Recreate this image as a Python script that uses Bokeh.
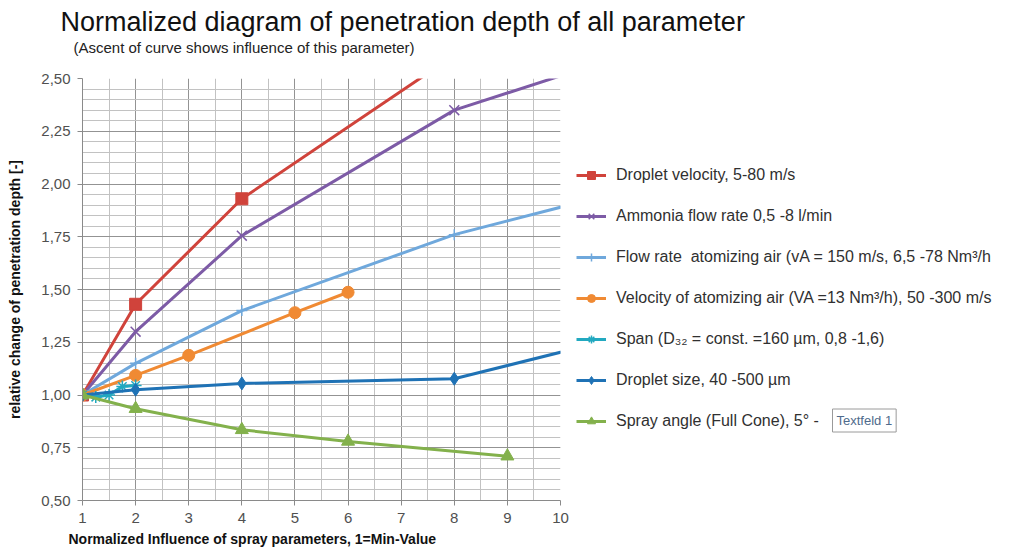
from bokeh.plotting import figure
from bokeh.models import (Range1d, FixedTicker, Legend, LegendItem, Title, Label)
from bokeh.embed import file_html
from bokeh.resources import INLINE
import numpy as np

# ---------------- data ----------------
x_dv = [1, 2, 4, 8]
y_dv = [1.00, 1.43, 1.93, 2.61]
x_am = [1, 2, 4, 8, 16]
y_am = [1.00, 1.30, 1.755, 2.35, 3.00]
x_fa = [1, 2, 4, 8, 12]
y_fa = [1.00, 1.15, 1.40, 1.76, 2.02]
x_va = [1, 2, 3, 5, 6]
y_va = [1.00, 1.093, 1.188, 1.39, 1.487]
x_sp = [1, 1.25, 1.5, 1.75, 2]
y_sp = [1.00, 0.99, 1.00, 1.04, 1.045]
x_ds = [1, 2, 4, 8, 12.5]
y_ds = [1.00, 1.025, 1.055, 1.077, 1.36]
x_sa = [1, 2, 4, 6, 9]
y_sa = [1.00, 0.935, 0.835, 0.78, 0.71]

labels = [
    "Droplet velocity, 5-80 m/s",
    "Ammonia flow rate 0,5 -8 l/min",
    "Flow rate  atomizing air (vA = 150 m/s, 6,5 -78 Nm³/h",
    "Velocity of atomizing air (VA =13 Nm³/h), 50 -300 m/s",
    "Span (D₃₂ = const. =160 µm, 0,8 -1,6)",
    "Droplet size, 40 -500 µm",
    "Spray angle (Full Cone), 5° -",
]
x_ticks = [1, 2, 3, 4, 5, 6, 7, 8, 9, 10]
y_ticks = [0.5, 0.75, 1.0, 1.25, 1.5, 1.75, 2.0, 2.25, 2.5]
y_tick_labels = ["0,50", "0,75", "1,00", "1,25", "1,50", "1,75", "2,00", "2,25", "2,50"]

title_text = "Normalized diagram of  penetration depth of all parameter"
subtitle_text = "(Ascent of curve shows influence of this parameter)"
xlabel_text = "Normalized Influence of  spray parameters, 1=Min-Value"
ylabel_text = "relative change of penetration depth [-]"
textbox_text = "Textfeld 1"

FONT = "Liberation Sans"

# ---------------- figure ----------------
W, H = 1012, 554
FL, FT, FW, FH = 82, 78, 478, 422

p = figure(width=W, height=H, output_backend="svg", toolbar_location=None,
           x_range=Range1d(1, 10), y_range=Range1d(0.5, 2.5),
           frame_width=FW, frame_height=FH,
           min_border_left=FL, min_border_top=FT,
           min_border_right=W - FL - FW, min_border_bottom=H - FT - FH)
p.outline_line_color = None
p.background_fill_color = "white"
p.border_fill_color = "white"

xminor = list(np.arange(1.5, 10, 1.0))
yminor = [round(v, 2) for v in np.arange(0.5, 2.5001, 0.05)]
p.xaxis.ticker = FixedTicker(ticks=x_ticks, minor_ticks=xminor)
p.yaxis.ticker = FixedTicker(ticks=y_ticks, minor_ticks=yminor)
p.yaxis.major_label_overrides = {t: l for t, l in zip(y_ticks, y_tick_labels)}

for ax in (p.xaxis[0], p.yaxis[0]):
    ax.axis_line_color = "#8a8a8a"
    ax.major_tick_line_color = "#8a8a8a"
    ax.major_tick_out = 5
    ax.major_tick_in = 0
    ax.minor_tick_line_color = None
    ax.major_label_text_font = FONT
    ax.major_label_text_font_size = "15px"
    ax.major_label_text_color = "#505050"
p.yaxis.major_label_standoff = 7
p.xaxis.major_label_standoff = 7

p.yaxis.axis_label = ylabel_text
p.yaxis.axis_label_text_font = FONT
p.yaxis.axis_label_text_font_size = "14px"
p.yaxis.axis_label_text_font_style = "bold"
p.yaxis.axis_label_text_color = "#111111"
p.yaxis.axis_label_standoff = 15

p.xgrid.grid_line_color = "#939393"
p.ygrid.grid_line_color = "#939393"
p.xgrid.minor_grid_line_color = "#c2c2c2"
p.ygrid.minor_grid_line_color = "#c2c2c2"

# ---------------- series ----------------
series = [
    (x_dv, y_dv, "#d0433b", "square", 12),
    (x_am, y_am, "#7d5ba6", "x", 14),
    (x_fa, y_fa, "#6fa8dc", "cross", 11),
    (x_va, y_va, "#f08a33", "circle", 12),
    (x_sp, y_sp, "#22a9c0", "asterisk", 12),
    (x_ds, y_ds, "#1f72b5", "diamond", 13),
    (x_sa, y_sa, "#83b14c", "triangle", 13),
]
items = []
for (xs, ys, col, mk, sz), lab in zip(series, labels):
    r1 = p.line(xs, ys, line_color=col, line_width=3)
    if mk in ("x", "cross", "asterisk"):
        r2 = p.scatter(xs, ys, marker=mk, size=sz, line_color=col, line_width=1.5)
    else:
        r2 = p.scatter(xs, ys, marker=mk, size=sz, fill_color=col, line_color=col)
    items.append(LegendItem(label=lab, renderers=[r1, r2]))

legend = Legend(items=items, location="top_left", padding=0, margin=16,
                title=" ", title_text_font_size="12px", title_standoff=57,
                glyph_width=30, glyph_height=20, label_height=20, spacing=21,
                label_standoff=10, border_line_color=None,
                background_fill_alpha=0,
                label_text_font=FONT, label_text_font_size="16px",
                label_text_color="#303030")
p.add_layout(legend, "right")

# ---------------- titles / labels ----------------
def px2x(px):
    return 1 + (px - FL) * 9.0 / FW

def py2y(py):
    return 0.5 + ((FT + FH) - py) * 2.0 / FH

# "Textfeld 1" box, kept in the panel above the frame so it is not clipped
p.add_layout(Label(x=px2x(832), y=py2y(420), text=textbox_text,
                   text_font=FONT, text_font_size="13px", text_color="#4f6b8c",
                   text_align="left", text_baseline="middle", padding=4,
                   background_fill_color="white", border_line_color="#9a9a9a"),
             "above")

p.add_layout(Title(text=subtitle_text, align="left", offset=-9, standoff=0,
                   text_font=FONT, text_font_size="15px", text_font_style="normal",
                   text_color="#222222"), "above")
p.add_layout(Title(text=title_text, align="left", offset=-22, standoff=0,
                   text_font=FONT, text_font_size="27px", text_font_style="normal",
                   text_color="#111111"), "above")

p.add_layout(Title(text=xlabel_text, align="left", offset=-14, standoff=6,
                   text_font=FONT, text_font_size="14px", text_font_style="bold",
                   text_color="#111111"), "below")

open("out.html", "w").write(file_html(p, INLINE))
